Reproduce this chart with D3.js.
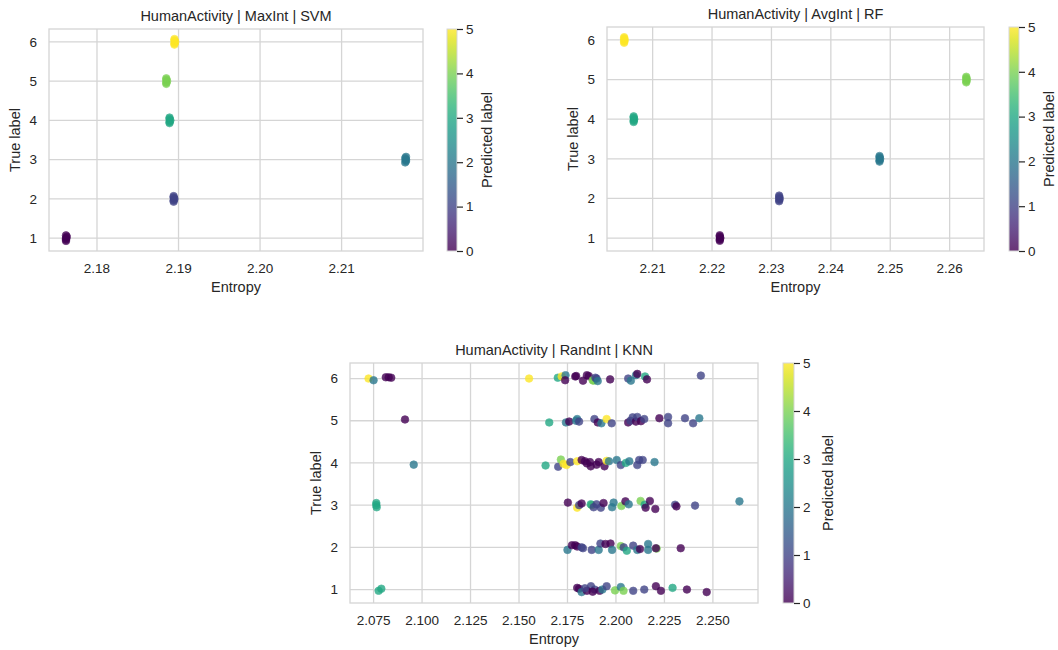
<!DOCTYPE html>
<html>
<head>
<meta charset="utf-8">
<script src="https://cdn.jsdelivr.net/npm/d3@7"></script>
<style>
  html, body { margin: 0; padding: 0; background: #fff; }
  svg { display: block; }
</style>
</head>
<body>
<div id="chart"></div>
<script>
// ---- data ----
const svmEntropy = [
  2.1762, 2.1762, 2.1762, 2.1763, 2.1762,
  2.1894, 2.1894, 2.1895, 2.1894, 2.1894,
  2.2178, 2.2179, 2.2179, 2.2178, 2.2179,
  2.1889, 2.1889, 2.1890, 2.1889, 2.1889,
  2.1885, 2.1885, 2.1886, 2.1885, 2.1885,
  2.1895, 2.1895, 2.1896, 2.1895, 2.1895
];
const svmTrue = [
  0.93, 0.965, 1.0, 1.035, 1.07,
  1.93, 1.965, 2.0, 2.035, 2.07,
  2.93, 2.965, 3.0, 3.035, 3.07,
  3.93, 3.965, 4.0, 4.035, 4.07,
  4.93, 4.965, 5.0, 5.035, 5.07,
  5.93, 5.965, 6.0, 6.035, 6.07
];
const svmPred = [
  0, 0, 0, 0, 0,
  1, 1, 1, 1, 1,
  2, 2, 2, 2, 2,
  3, 3, 3, 3, 3,
  4, 4, 4, 4, 4,
  5, 5, 5, 5, 5
];

const rfEntropy = [
  2.2213, 2.2213, 2.2214, 2.2213, 2.2213,
  2.2313, 2.2313, 2.2314, 2.2313, 2.2313,
  2.2482, 2.2482, 2.2483, 2.2482, 2.2482,
  2.2068, 2.2068, 2.2069, 2.2068, 2.2068,
  2.2628, 2.2628, 2.2629, 2.2628, 2.2628,
  2.2052, 2.2052, 2.2053, 2.2052, 2.2052
];
const rfTrue = svmTrue.slice();
const rfPred = svmPred.slice();

const knnEntropy = [
  // true label 6
  2.0724, 2.0750, 2.0813, 2.0828, 2.0841, 2.1552, 2.1700, 2.1720, 2.1740, 2.1738,
  2.1790, 2.1795, 2.1830, 2.1850, 2.1860, 2.1885, 2.1880, 2.1894, 2.1900, 2.1906,
  2.1970, 2.2063, 2.2077, 2.2103, 2.2110, 2.2150, 2.2160, 2.2438,
  // true label 5
  2.0912, 2.1656, 2.1742, 2.1759, 2.1794, 2.1800, 2.1810, 2.1889, 2.1906, 2.1925,
  2.1952, 2.1978, 2.2063, 2.2075, 2.2086, 2.2103, 2.2110, 2.2129, 2.2146, 2.2224,
  2.2269, 2.2269, 2.2356, 2.2398, 2.2430,
  // true label 4
  2.0957, 2.1637, 2.1702, 2.1716, 2.1730, 2.1745, 2.1765, 2.1800, 2.1823, 2.1840,
  2.1866, 2.1870, 2.1850, 2.1911, 2.1941, 2.1900, 2.1952, 2.1964, 2.2004, 2.2025,
  2.2051, 2.2069, 2.2110, 2.2120, 2.2138, 2.2199,
  // true label 3
  2.0764, 2.0764, 2.0766, 2.1752, 2.1800, 2.1810, 2.1823, 2.1875, 2.1870, 2.1900,
  2.1885, 2.1922, 2.1936, 2.1988, 2.1980, 2.2028, 2.2049, 2.2066, 2.2127, 2.2148,
  2.2175, 2.2153, 2.2203, 2.2305, 2.2312, 2.2408, 2.2637,
  // true label 2
  2.1750, 2.1773, 2.1790, 2.1800, 2.1823, 2.1830, 2.1875, 2.1911, 2.1920, 2.1946,
  2.1972, 2.1980, 2.2025, 2.2040, 2.2056, 2.2089, 2.2110, 2.2124, 2.2166, 2.2166,
  2.2210, 2.2206, 2.2334,
  // true label 1
  2.0776, 2.0790, 2.1800, 2.1810, 2.1823, 2.1871, 2.1850, 2.1840, 2.1890, 2.1880,
  2.1916, 2.1930, 2.1952, 2.1995, 2.2025, 2.2039, 2.2089, 2.2146, 2.2206, 2.2232,
  2.2292, 2.2366, 2.2468
];
const knnTrue = [
  6.00, 5.96, 6.03, 6.03, 6.02, 6.00, 6.02, 6.05, 6.08, 5.96,
  6.05, 6.06, 5.95, 6.08, 6.06, 5.95, 5.96, 6.02, 6.00, 5.94,
  5.98, 6.00, 5.95, 6.08, 6.11, 6.05, 5.98, 6.07,
  5.03, 4.96, 4.96, 4.98, 5.00, 5.04, 4.98, 5.04, 4.96, 4.94,
  5.04, 4.94, 4.96, 5.00, 5.08, 4.98, 5.09, 4.99, 5.04, 5.06,
  5.09, 4.94, 5.06, 4.94, 5.06,
  3.96, 3.94, 3.91, 4.08, 3.98, 3.95, 4.02, 4.04, 4.07, 4.04,
  4.02, 3.92, 3.99, 4.02, 3.92, 3.96, 4.05, 4.04, 4.07, 3.95,
  4.00, 4.04, 3.95, 4.07, 4.07, 4.02,
  3.05, 3.00, 2.95, 3.06, 2.94, 3.00, 3.04, 3.00, 3.02, 3.02,
  2.95, 2.94, 3.05, 3.06, 2.95, 2.98, 3.09, 3.02, 3.10, 3.01,
  3.10, 2.94, 2.91, 3.01, 2.97, 2.99, 3.09,
  1.94, 2.05, 2.05, 2.02, 2.00, 1.98, 1.94, 1.94, 2.09, 2.08,
  2.09, 1.94, 2.03, 2.00, 1.92, 2.04, 1.94, 1.96, 2.08, 1.94,
  1.97, 1.98, 1.98,
  0.97, 1.02, 1.04, 1.02, 0.94, 1.08, 0.97, 1.03, 1.00, 0.95,
  0.97, 1.00, 1.08, 0.98, 1.06, 0.97, 0.97, 1.00, 1.08, 0.97,
  1.04, 1.00, 0.94
];
const knnPred = [
  5, 2, 0, 0, 0, 5, 3, 5, 2, 0,
  0, 0, 0, 0, 0, 4, 4, 1, 1, 2,
  0, 1, 2, 2, 0, 3, 0, 1,
  0, 3, 2, 0, 2, 2, 1, 1, 0, 2,
  5, 1, 0, 1, 1, 0, 1, 0, 1, 0,
  1, 1, 1, 1, 2,
  2, 3, 1, 4, 5, 5, 1, 5, 0, 0,
  0, 0, 0, 0, 0, 0, 5, 2, 2, 1,
  3, 2, 1, 1, 1, 2,
  3, 3, 3, 0, 5, 1, 0, 4, 3, 1,
  1, 1, 0, 2, 2, 4, 0, 2, 4, 3,
  0, 0, 0, 1, 0, 1, 2,
  2, 0, 0, 0, 1, 1, 1, 2, 1, 0,
  0, 2, 4, 1, 3, 1, 2, 0, 2, 2,
  4, 0, 0,
  3, 3, 0, 0, 2, 1, 0, 1, 1, 0,
  0, 2, 1, 4, 2, 4, 1, 1, 0, 0,
  3, 0, 0
];

const svmTicks = [2.18, 2.19, 2.20, 2.21];
const rfTicks = [2.21, 2.22, 2.23, 2.24, 2.25, 2.26];
const knnTicks = [2.075, 2.100, 2.125, 2.150, 2.175, 2.200, 2.225, 2.250];
const yTicks = [1, 2, 3, 4, 5, 6];
const cbarTicks = [0, 1, 2, 3, 4, 5];

// ---- drawing ----
const W = 1058, H = 650;
const FONT = "'Liberation Sans', Arial, Helvetica, sans-serif";
const TXT = '#262626';
const GRID = '#d5d5d5';
const TICK_FS = 13.5, LABEL_FS = 14.5;

const svg = d3.select('#chart').append('svg')
  .attr('width', W).attr('height', H)
  .style('font-family', FONT);

// shared viridis gradient for the colour bars
const grad = svg.append('defs').append('linearGradient')
  .attr('id', 'viridis').attr('x1', 0).attr('y1', 1).attr('x2', 0).attr('y2', 0);
d3.range(0, 1.0001, 0.05).forEach(t => {
  grad.append('stop').attr('offset', t).attr('stop-color', d3.interpolateViridis(t));
});

const color = p => d3.interpolateViridis(p / 5);

function padded(vals) {
  const [lo, hi] = d3.extent(vals);
  const pad = (hi - lo) * 0.05;
  return [lo - pad, hi + pad];
}

function drawPanel(cfg) {
  const x = d3.scaleLinear().domain(padded(cfg.xs)).range([cfg.left, cfg.right]);
  const y = d3.scaleLinear().domain(padded(cfg.ys)).range([cfg.bottom, cfg.top]);
  const g = svg.append('g');

  // grid
  g.selectAll('.vx').data(cfg.xTicks).join('line')
    .attr('x1', d => x(d)).attr('x2', d => x(d))
    .attr('y1', cfg.top).attr('y2', cfg.bottom)
    .attr('stroke', GRID).attr('stroke-width', 1.3);
  g.selectAll('.hy').data(yTicks).join('line')
    .attr('y1', d => y(d)).attr('y2', d => y(d))
    .attr('x1', cfg.left).attr('x2', cfg.right)
    .attr('stroke', GRID).attr('stroke-width', 1.3);

  // frame
  g.append('rect')
    .attr('x', cfg.left).attr('y', cfg.top)
    .attr('width', cfg.right - cfg.left).attr('height', cfg.bottom - cfg.top)
    .attr('fill', 'none').attr('stroke', GRID).attr('stroke-width', 1.3);

  // tick labels
  g.selectAll('.xl').data(cfg.xTicks).join('text')
    .attr('x', d => x(d)).attr('y', cfg.bottom + 22)
    .attr('text-anchor', 'middle').attr('font-size', TICK_FS).attr('fill', TXT)
    .text(d => d3.format(cfg.fmt)(d));
  g.selectAll('.yl').data(yTicks).join('text')
    .attr('x', cfg.left - 12).attr('y', d => y(d))
    .attr('dy', '0.35em')
    .attr('text-anchor', 'end').attr('font-size', TICK_FS).attr('fill', TXT)
    .text(d => d);

  // points
  const idx = d3.range(cfg.xs.length);
  g.selectAll('circle').data(idx).join('circle')
    .attr('cx', i => x(cfg.xs[i]))
    .attr('cy', i => y(cfg.ys[i]))
    .attr('r', 3.8)
    .attr('fill', i => color(cfg.cs[i]))
    .attr('stroke', i => color(cfg.cs[i]))
    .attr('stroke-width', 0.7)
    .attr('opacity', 0.8);

  // labels
  g.append('text')
    .attr('x', (cfg.left + cfg.right) / 2).attr('y', cfg.top - 8)
    .attr('text-anchor', 'middle').attr('font-size', LABEL_FS).attr('fill', TXT)
    .text(cfg.title);
  g.append('text')
    .attr('x', (cfg.left + cfg.right) / 2).attr('y', cfg.bottom + 41)
    .attr('text-anchor', 'middle').attr('font-size', LABEL_FS).attr('fill', TXT)
    .text('Entropy');
  g.append('text')
    .attr('transform', `translate(${cfg.left - 34},${(cfg.top + cfg.bottom) / 2}) rotate(-90)`)
    .attr('dy', '0.35em')
    .attr('text-anchor', 'middle').attr('font-size', LABEL_FS).attr('fill', TXT)
    .text('True label');

  // colour bar
  const cb = d3.scaleLinear().domain([0, 5]).range([cfg.bottom, cfg.top]);
  g.append('rect')
    .attr('x', cfg.cbX).attr('y', cfg.top)
    .attr('width', cfg.cbW).attr('height', cfg.bottom - cfg.top)
    .attr('fill', 'url(#viridis)').attr('opacity', 0.8);
  g.append('rect')
    .attr('x', cfg.cbX).attr('y', cfg.top)
    .attr('width', cfg.cbW).attr('height', cfg.bottom - cfg.top)
    .attr('fill', 'none').attr('stroke', GRID).attr('stroke-width', 1);
  const ax = g.append('g')
    .attr('transform', `translate(${cfg.cbX + cfg.cbW},0)`)
    .call(d3.axisRight(cb).tickValues(cbarTicks).tickFormat(d3.format('d'))
      .tickSize(6).tickPadding(3));
  ax.select('.domain').remove();
  ax.selectAll('.tick line').attr('stroke', TXT).attr('stroke-width', 1.2);
  ax.selectAll('.tick text').attr('font-size', TICK_FS).attr('fill', TXT)
    .attr('font-family', FONT);
  g.append('text')
    .attr('transform', `translate(${cfg.cbX + cfg.cbW + cfg.cbLabel},${(cfg.top + cfg.bottom) / 2}) rotate(-90)`)
    .attr('dy', '0.35em')
    .attr('text-anchor', 'middle').attr('font-size', LABEL_FS).attr('fill', TXT)
    .text('Predicted label');
}

drawPanel({
  title: 'HumanActivity | MaxInt | SVM',
  xs: svmEntropy, ys: svmTrue, cs: svmPred, xTicks: svmTicks, fmt: '.2f',
  left: 49, right: 423, top: 29, bottom: 251, cbX: 447, cbW: 10, cbLabel: 30
});
drawPanel({
  title: 'HumanActivity | AvgInt | RF',
  xs: rfEntropy, ys: rfTrue, cs: rfPred, xTicks: rfTicks, fmt: '.2f',
  left: 607, right: 984, top: 27, bottom: 251, cbX: 1009, cbW: 10, cbLabel: 30
});
drawPanel({
  title: 'HumanActivity | RandInt | KNN',
  xs: knnEntropy, ys: knnTrue, cs: knnPred, xTicks: knnTicks, fmt: '.3f',
  left: 350, right: 758, top: 363, bottom: 603, cbX: 783, cbW: 11, cbLabel: 34
});
</script>
</body>
</html>
